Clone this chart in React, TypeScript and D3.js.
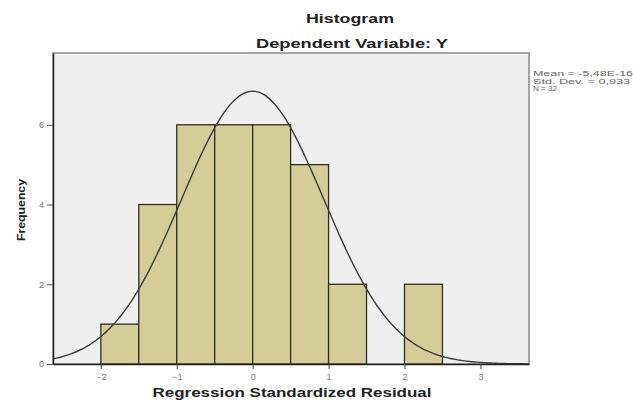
import { useEffect, useRef } from "react";
import * as d3 from "d3";

const binStarts = [-2, -1.5, -1, -0.5, 0, 0.5, 1, 1.5, 2];
const binCounts = [1, 4, 6, 6, 6, 5, 2, 0, 2];
const binWidth = 0.5;
const xTicks = [-2, -1, 0, 1, 2, 3];
const yTicks = [0, 2, 4, 6];
const mean = 0;
const stdDev = 0.933;
const n = 32;
const statLines = ["Mean = -5,48E-16", "Std. Dev. = 0,933", "N = 32"];

const W = 633;
const H = 403;

export default function App() {
  const ref = useRef<SVGSVGElement>(null);

  useEffect(() => {
    if (!ref.current) return;
    const root = d3.select(ref.current);
    root.selectAll("*").remove();

    const left = 53,
      right = 529,
      top = 53,
      bottom = 364;
    const font = "Liberation Sans, Arial, sans-serif";

    const x = d3.scaleLinear().domain([-2.63, 3.64]).range([left, right]);
    const y = d3.scaleLinear().domain([0, 7.8]).range([bottom, top]);

    // plot background + frame
    root
      .append("rect")
      .attr("x", left)
      .attr("y", top)
      .attr("width", right - left)
      .attr("height", bottom - top)
      .attr("fill", "#efefef")
      .attr("stroke", "#8a8a8a")
      .attr("stroke-width", 1.5);

    const bins = binStarts.map((s, i) => ({ s, c: binCounts[i] }));
    root
      .append("g")
      .selectAll("rect")
      .data(bins.filter((b) => b.c > 0))
      .enter()
      .append("rect")
      .attr("x", (d) => x(d.s))
      .attr("y", (d) => y(d.c))
      .attr("width", (d) => x(d.s + binWidth) - x(d.s))
      .attr("height", (d) => bottom - y(d.c))
      .attr("fill", "#d4cd97")
      .attr("stroke", "#2e2e22")
      .attr("stroke-width", 1.3);

    // normal curve from the stated mean / sd / N
    const [x0, x1] = x.domain();
    const pts = d3.range(0, 201).map((i) => {
      const v = x0 + ((x1 - x0) * i) / 200;
      const z = (v - mean) / stdDev;
      const f = (n * binWidth * Math.exp(-0.5 * z * z)) / (stdDev * Math.sqrt(2 * Math.PI));
      return [v, f] as [number, number];
    });
    root
      .append("path")
      .attr(
        "d",
        d3
          .line<[number, number]>()
          .x((d) => x(d[0]))
          .y((d) => y(d[1]))(pts)
      )
      .attr("fill", "none")
      .attr("stroke", "#3a3a3a")
      .attr("stroke-width", 1.4);

    // axes
    const xAxis = root
      .append("g")
      .attr("transform", `translate(0,${bottom})`)
      .call(
        d3.axisBottom(x).tickValues(xTicks).tickSize(5).tickSizeOuter(0).tickFormat(d3.format("d"))
      );
    xAxis.select(".domain").attr("stroke", "#222").attr("stroke-width", 1.5);
    xAxis.selectAll(".tick line").attr("stroke", "#444");
    xAxis
      .selectAll("text")
      .attr("fill", "#777")
      .attr("font-size", 9)
      .attr("font-family", font)
      .attr("dy", "0.85em");

    const yAxis = root
      .append("g")
      .attr("transform", `translate(${left},0)`)
      .call(
        d3.axisLeft(y).tickValues(yTicks).tickSize(6).tickSizeOuter(0).tickFormat(d3.format("d"))
      );
    yAxis.select(".domain").attr("stroke", "#222").attr("stroke-width", 1.5);
    yAxis.selectAll(".tick line").attr("stroke", "#555");
    yAxis
      .selectAll("text")
      .attr("fill", "#777")
      .attr("font-size", 9)
      .attr("font-family", font);

    root
      .append("text")
      .attr("x", 350)
      .attr("y", 23)
      .attr("text-anchor", "middle")
      .attr("font-family", font)
      .attr("font-weight", "bold")
      .attr("font-size", 12.5)
      .attr("fill", "#222")
      .attr("textLength", 88)
      .attr("lengthAdjust", "spacingAndGlyphs")
      .text("Histogram");

    root
      .append("text")
      .attr("x", 352)
      .attr("y", 48)
      .attr("text-anchor", "middle")
      .attr("font-family", font)
      .attr("font-weight", "bold")
      .attr("font-size", 12.5)
      .attr("fill", "#222")
      .attr("textLength", 192)
      .attr("lengthAdjust", "spacingAndGlyphs")
      .text("Dependent Variable: Y");

    root
      .append("text")
      .attr("x", 292)
      .attr("y", 397)
      .attr("text-anchor", "middle")
      .attr("font-family", font)
      .attr("font-weight", "bold")
      .attr("font-size", 12)
      .attr("fill", "#222")
      .attr("textLength", 279)
      .attr("lengthAdjust", "spacingAndGlyphs")
      .text("Regression Standardized Residual");

    root
      .append("text")
      .attr("transform", "translate(25,210) rotate(-90)")
      .attr("text-anchor", "middle")
      .attr("font-family", font)
      .attr("font-weight", "bold")
      .attr("font-size", 11)
      .attr("fill", "#222")
      .attr("textLength", 62)
      .attr("lengthAdjust", "spacingAndGlyphs")
      .text("Frequency");

    const statWidths = [100, 97, 24];
    root
      .append("g")
      .selectAll("text")
      .data(statLines)
      .enter()
      .append("text")
      .attr("x", 533)
      .attr("y", (_d, i) => 76 + i * 7.6)
      .attr("font-family", font)
      .attr("font-size", 6.5)
      .attr("fill", "#666")
      .attr("textLength", (_d, i) => statWidths[i])
      .attr("lengthAdjust", "spacingAndGlyphs")
      .text((d) => d);
  }, []);

  return (
    <svg
      ref={ref}
      width={W}
      height={H}
      style={{ position: "absolute", left: 0, top: 0, background: "#fff" }}
    />
  );
}
